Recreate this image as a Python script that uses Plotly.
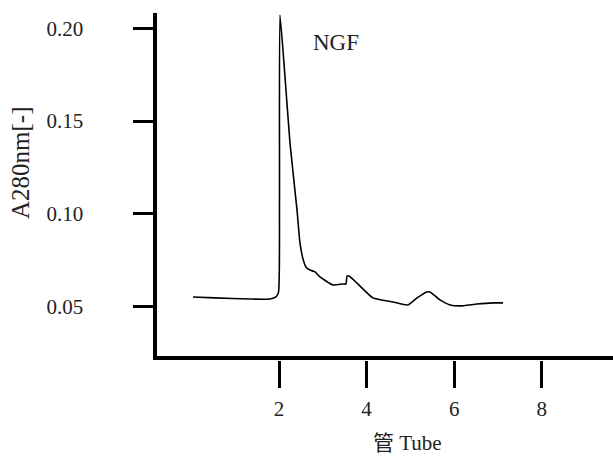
import plotly.graph_objects as go

# Elution profile of the NGF fraction (absorbance at 280 nm vs. tube number)
tube = [0.034, 0.537, 1.336, 1.793, 1.930, 1.987, 2.010, 2.021, 2.136, 2.250,
        2.410, 2.478, 2.547, 2.615, 2.707, 2.821, 2.935, 3.232,
        3.460, 3.529, 3.552, 3.598, 3.780, 4.146, 4.603, 4.945, 5.151, 5.379,
        5.448, 5.676, 5.905, 6.133, 6.521, 6.887, 7.115]
a280 = [0.0552, 0.0547, 0.0541, 0.0541, 0.0552, 0.0578, 0.1074, 0.2071, 0.1737, 0.1381,
        0.1021, 0.0843, 0.0757, 0.0714, 0.0697, 0.0687, 0.0660, 0.0617,
        0.0622, 0.0622, 0.0665, 0.0665, 0.0627, 0.0547, 0.0525, 0.0509, 0.0547, 0.0579,
        0.0579, 0.0536, 0.0509, 0.0504, 0.0514, 0.0520, 0.0520]

x_ticks = [2, 4, 6, 8]
x_tick_labels = ["2", "4", "6", "8"]
y_ticks = [0.05, 0.10, 0.15, 0.20]
y_tick_labels = ["0.05", "0.10", "0.15", "0.20"]

peak_label = "NGF"
peak_label_pos = (3.29, 0.1923)

x_title = "管 Tube"
y_title = "A280nm[-]"

X_RANGE = [-0.777, 9.628]
Y_RANGE = [0.0234, 0.2082]
X_DOMAIN = [0.2569, 1.0]
Y_DOMAIN = [0.2193, 0.9715]

SERIF = "Liberation Serif, Times New Roman, Noto Sans CJK SC, serif"
INK = "#222222"

fig = go.Figure()
fig.add_trace(go.Scatter(
    x=tube, y=a280, mode="lines",
    line=dict(color="black", width=1.6, shape="spline", smoothing=0.5),
    hoverinfo="skip", showlegend=False,
))

fig.update_layout(
    width=613, height=456,
    margin=dict(l=0, r=0, t=0, b=0),
    paper_bgcolor="white", plot_bgcolor="white",
    font=dict(family=SERIF, color=INK),
    showlegend=False,
    # frame axes: heavy left and bottom lines only
    xaxis=dict(domain=X_DOMAIN, range=X_RANGE, anchor="y",
               showline=True, linewidth=4, linecolor="black",
               showgrid=False, zeroline=False, ticks="", showticklabels=False),
    yaxis=dict(domain=Y_DOMAIN, range=Y_RANGE, anchor="x",
               showline=True, linewidth=4, linecolor="black",
               showgrid=False, zeroline=False, ticks="", showticklabels=False),
    # tick axes set slightly apart from the frame lines
    xaxis2=dict(overlaying="x", anchor="free", position=0.2105, side="bottom",
                domain=X_DOMAIN, range=X_RANGE, showline=False,
                showgrid=False, zeroline=False,
                tickmode="array", tickvals=x_ticks, ticktext=x_tick_labels,
                ticks="outside", ticklen=27, tickwidth=3, tickcolor="black",
                ticklabelstandoff=3,
                tickfont=dict(family=SERIF, size=21, color=INK)),
    yaxis2=dict(overlaying="y", anchor="free", position=0.2504, side="left",
                domain=Y_DOMAIN, range=Y_RANGE, showline=False,
                showgrid=False, zeroline=False,
                tickmode="array", tickvals=y_ticks, ticktext=y_tick_labels,
                ticks="outside", ticklen=20, tickwidth=3, tickcolor="black",
                ticklabelstandoff=46,
                tickfont=dict(family=SERIF, size=21, color=INK)),
    annotations=[
        dict(x=peak_label_pos[0], y=peak_label_pos[1], xref="x", yref="y",
             text=peak_label, showarrow=False,
             xanchor="center", yanchor="middle",
             font=dict(family=SERIF, size=23, color=INK)),
        dict(x=407 / 613, y=(456 - 443) / 456, xref="paper", yref="paper",
             text=x_title, showarrow=False,
             xanchor="center", yanchor="middle",
             font=dict(family=SERIF, size=21, color=INK)),
        dict(x=21 / 613, y=(456 - 163) / 456, xref="paper", yref="paper",
             text=y_title, showarrow=False, textangle=-90,
             xanchor="center", yanchor="middle",
             font=dict(family=SERIF, size=25, color=INK)),
    ],
)

# keep the tick axes alive with an empty companion trace
fig.add_trace(go.Scatter(x=[None], y=[None], xaxis="x2", yaxis="y2",
                         mode="lines", hoverinfo="skip", showlegend=False))

fig.write_html("out.html")
